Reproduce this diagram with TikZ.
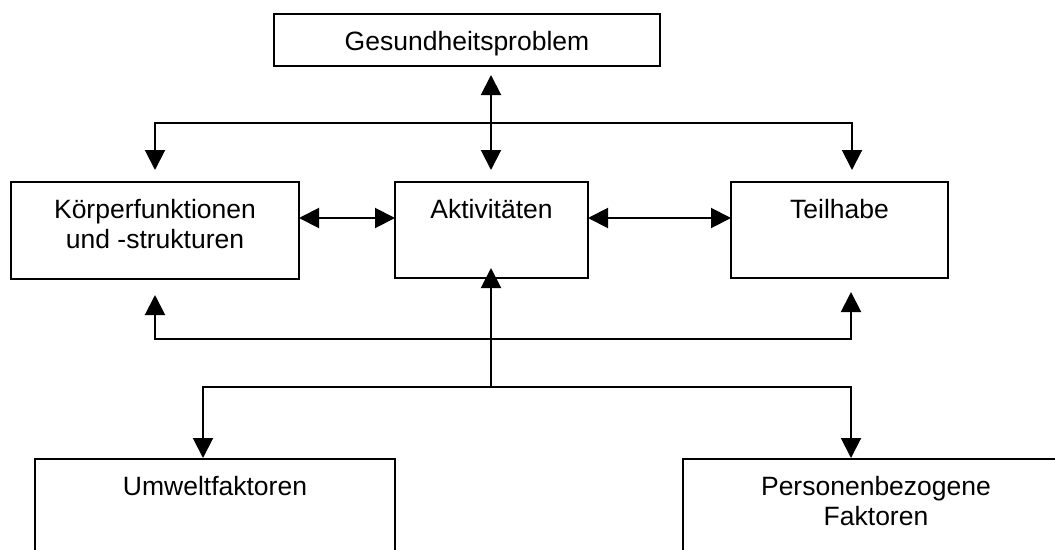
\documentclass[tikz,border=0pt]{standalone}
\usepackage{fontspec}
\setmainfont{Liberation Sans}
\usetikzlibrary{arrows.meta,calc}
\begin{document}
\begin{tikzpicture}[x=1pt,y=-1pt,
  box/.style={draw, line width=1.8pt, rectangle, inner sep=0pt, outer sep=0pt, anchor=north west},
  lbl/.style={font=\fontsize{26.5pt}{30.5pt}\selectfont, align=center, inner sep=0pt, anchor=north},
  conn/.style={line width=2pt},
  arr/.style={conn, -{Triangle[width=20pt,length=20pt]}},
  dbl/.style={conn, {Triangle[width=20pt,length=20pt]}-{Triangle[width=20pt,length=20pt]}}]
\useasboundingbox (0,0) rectangle (1055,549);
\clip (0,0) rectangle (1055,549);

% boxes
\node[box, minimum width=386pt, minimum height=52pt] (ges) at (274,14) {};
\node[box, minimum width=288pt, minimum height=97pt] (koerp) at (11,182) {};
\node[box, minimum width=193pt, minimum height=96pt] (akt) at (395,182) {};
\node[box, minimum width=217pt, minimum height=96pt] (teil) at (731,182) {};
\node[box, minimum width=360pt, minimum height=130pt] (umw) at (35,459) {};
\node[box, minimum width=386pt, minimum height=130pt] (pers) at (683,459) {};

% labels
\node[lbl] (ges-t) at (467,31) {Gesundheitsproblem};
\node[lbl] (koerp-t) at ($(koerp.north)+(0,17)$) {Körperfunktionen\\und -strukturen};
\node[lbl] (akt-t) at ($(akt.north)+(0,17)$) {Aktivitäten};
\node[lbl] (teil-t) at ($(teil.north)+(0,17)$) {Teilhabe};
\node[lbl] (umw-t) at (215,476) {Umweltfaktoren};
\node[lbl] (pers-t) at (876,476) {Personenbezogene\\Faktoren};

% bend points of the connectors
\coordinate (tbl) at (155,123);
\coordinate (tbr) at (852,123);
\coordinate (bbl) at (155,339);
\coordinate (bbr) at (851,339);
\coordinate (hub) at (491,387);
\coordinate (lbl-l) at (203,387);
\coordinate (lbl-r) at (851,387);

% health problem <-> activities
\draw[dbl, shorten <=9pt, shorten >=12pt] (ges.south -| hub) -- (hub |- akt.north);
% upper distribution line
\draw[dbl, shorten <=12pt, shorten >=12pt] (tbl |- koerp.north) -- (tbl) -- (tbr) -- (tbr |- teil.north);
% side interactions
\draw[dbl] ($(koerp.north east)+(0,36)$) -- ($(akt.north west)+(0,36)$);
\draw[dbl] ($(akt.north east)+(0,36)$) -- ($(teil.north west)+(0,36)$);
% lower feedback line
\draw[dbl, shorten <=16pt, shorten >=14pt] (bbl |- koerp.south) -- (bbl) -- (bbr) -- (bbr |- teil.south);
% contextual factors
\draw[arr, shorten >=-10pt] (hub) -- (hub |- akt.south);
\draw[dbl, shorten <=1pt, shorten >=1pt] (lbl-l |- umw.north) -- (lbl-l) -- (lbl-r) -- (lbl-r |- pers.north);
\end{tikzpicture}
\end{document}
